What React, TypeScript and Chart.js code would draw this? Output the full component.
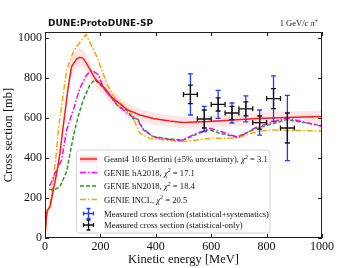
import { useEffect, useRef } from "react";
import { Chart, registerables } from "chart.js";

Chart.register(...registerables);

// ---- Data ----
const geant4X = [0, 4, 8, 18, 30, 42, 54, 64, 84, 96, 114, 126, 138, 150, 180, 217, 240, 295, 343, 391, 450, 500, 590, 680, 764, 870, 1000];
const geant4Y = [0, 90, 138, 155, 240, 323, 423, 540, 757, 857, 895, 903, 898, 873, 798, 748, 705, 643, 615, 598, 585, 578, 582, 590, 598, 602, 607];

const hA2018X = [15, 20, 36, 60, 78, 102, 126, 150, 169, 192, 211, 265, 300, 331, 355, 391, 450, 490, 550, 596, 640, 698, 764, 872, 1000];
const hA2018Y = [262, 268, 323, 390, 540, 640, 750, 815, 838, 818, 750, 660, 620, 595, 545, 505, 492, 487, 525, 548, 530, 502, 555, 600, 558];

const hN2018X = [15, 36, 54, 78, 102, 120, 138, 162, 180, 211, 265, 295, 318, 333, 355, 391, 450, 499, 550, 592, 632, 692, 764, 872, 1000];
const hN2018Y = [243, 243, 257, 332, 507, 610, 690, 765, 792, 750, 657, 640, 595, 600, 540, 507, 495, 490, 520, 542, 523, 505, 548, 592, 562];

const inclX = [0, 6, 16, 24, 32, 42, 48, 78, 105, 148, 187, 223, 247, 307, 343, 379, 415, 499, 596, 692, 764, 812, 1000];
const inclY = [0, 123, 160, 215, 307, 440, 540, 840, 940, 1018, 907, 773, 707, 632, 523, 498, 493, 482, 498, 500, 532, 540, 535];

const dataX = [525, 575, 625, 675, 725, 775, 825, 875];
const dataY = [718, 595, 668, 625, 646, 577, 697, 550];
const dataXErr = [25, 25, 25, 25, 25, 25, 25, 25];
const statErr = [46, 45, 33, 33, 35, 33, 50, 75];
const totalErr = [103, 63, 70, 50, 65, 63, 114, 163];

const xTickValues = [0, 200, 400, 600, 800, 1000];
const yTickValues = [0, 200, 400, 600, 800, 1000];

const legendLabels = [
  "Geant4 10.6 Bertini (±5% uncertainty), ",
  "GENIE hA2018, ",
  "GENIE hN2018, ",
  "GENIE INCL, ",
  "Measured cross section (statistical+systematics)",
  "Measured cross section (statistical-only)",
];
const chi2Values = ["3.1", "17.1", "18.4", "20.5"];

const RED = "#ff1a1a";
const MAGENTA = "#ff00ff";
const GREEN = "#2a9a2a";
const ORANGE = "#ffa500";
const BLUE = "#1f3dff";
const BLACK = "#111111";
const SERIF = "'Liberation Serif', 'DejaVu Serif', serif";

const DASH_DOT = [6, 2, 1.5, 2];
const DASHED = [4, 2];

function toPts(xs: number[], ys: number[]) {
  return xs.map((x, i) => ({ x, y: ys[i] }));
}

type Part = { t: string; italic?: boolean; sup?: boolean };

function richWidth(ctx: CanvasRenderingContext2D, parts: Part[], size: number) {
  let w = 0;
  for (const p of parts) {
    const s = p.sup ? size * 0.7 : size;
    ctx.font = `${p.italic ? "italic " : ""}${s}px ${SERIF}`;
    w += ctx.measureText(p.t).width;
  }
  return w;
}

function drawRich(ctx: CanvasRenderingContext2D, parts: Part[], x: number, y: number, size: number) {
  let cx = x;
  ctx.textBaseline = "alphabetic";
  ctx.textAlign = "left";
  for (const p of parts) {
    const s = p.sup ? size * 0.7 : size;
    ctx.font = `${p.italic ? "italic " : ""}${s}px ${SERIF}`;
    ctx.fillText(p.t, cx, p.sup ? y - size * 0.4 : y);
    cx += ctx.measureText(p.t).width;
  }
}

function drawErrCross(
  ctx: CanvasRenderingContext2D,
  cx: number,
  cy: number,
  xl: number,
  xr: number,
  yt: number,
  yb: number,
  color: string,
  cap: number
) {
  ctx.strokeStyle = color;
  ctx.beginPath();
  ctx.moveTo(xl, cy);
  ctx.lineTo(xr, cy);
  ctx.moveTo(xl, cy - cap);
  ctx.lineTo(xl, cy + cap);
  ctx.moveTo(xr, cy - cap);
  ctx.lineTo(xr, cy + cap);
  ctx.moveTo(cx, yt);
  ctx.lineTo(cx, yb);
  ctx.moveTo(cx - cap, yt);
  ctx.lineTo(cx + cap, yt);
  ctx.moveTo(cx - cap, yb);
  ctx.lineTo(cx + cap, yb);
  ctx.stroke();
}

const overlayPlugin = {
  id: "overlay",
  afterDatasetsDraw(chart: any) {
    const { ctx, scales } = chart;
    const xs = scales.x;
    const ys = scales.y;
    ctx.save();
    ctx.lineWidth = 1.3;
    dataX.forEach((xv, i) => {
      const px = xs.getPixelForValue(xv);
      const yt = ys.getPixelForValue(dataY[i] + totalErr[i]);
      const yb = ys.getPixelForValue(dataY[i] - totalErr[i]);
      ctx.strokeStyle = BLUE;
      ctx.beginPath();
      ctx.moveTo(px, yt);
      ctx.lineTo(px, yb);
      ctx.moveTo(px - 2.5, yt);
      ctx.lineTo(px + 2.5, yt);
      ctx.moveTo(px - 2.5, yb);
      ctx.lineTo(px + 2.5, yb);
      ctx.stroke();
    });
    dataX.forEach((xv, i) => {
      const px = xs.getPixelForValue(xv);
      const py = ys.getPixelForValue(dataY[i]);
      drawErrCross(
        ctx,
        px,
        py,
        xs.getPixelForValue(xv - dataXErr[i]),
        xs.getPixelForValue(xv + dataXErr[i]),
        ys.getPixelForValue(dataY[i] + statErr[i]),
        ys.getPixelForValue(dataY[i] - statErr[i]),
        BLACK,
        2.5
      );
    });
    ctx.restore();
  },
  afterDraw(chart: any) {
    const { ctx, chartArea, scales } = chart;
    const { left, right, top, bottom } = chartArea;
    const xs = scales.x;
    const ys = scales.y;
    ctx.save();
    ctx.strokeStyle = "#222";
    ctx.lineWidth = 1;
    ctx.setLineDash([]);
    ctx.strokeRect(Math.round(left) + 0.5, Math.round(top) + 0.5, Math.round(right - left) - 1, Math.round(bottom - top) - 1);
    ctx.beginPath();
    xTickValues.forEach((v) => {
      const px = Math.round(xs.getPixelForValue(v)) + 0.5;
      ctx.moveTo(px, bottom);
      ctx.lineTo(px, bottom - 4);
      ctx.moveTo(px, top);
      ctx.lineTo(px, top + 4);
    });
    yTickValues.forEach((v) => {
      const py = Math.round(ys.getPixelForValue(v)) + 0.5;
      ctx.moveTo(left, py);
      ctx.lineTo(left + 4, py);
      ctx.moveTo(right, py);
      ctx.lineTo(right - 4, py);
    });
    ctx.stroke();

    ctx.fillStyle = "#111";
    ctx.font = `12.5px ${SERIF}`;
    ctx.textAlign = "center";
    ctx.textBaseline = "middle";
    ctx.fillText("Kinetic energy [MeV]", (left + right) / 2, 260);
    ctx.save();
    ctx.translate(9, (top + bottom) / 2);
    ctx.rotate(-Math.PI / 2);
    ctx.fillText("Cross section [mb]", 0, 0);
    ctx.restore();

    ctx.font = `bold 9px 'DejaVu Sans', sans-serif`;
    ctx.textAlign = "left";
    ctx.textBaseline = "alphabetic";
    ctx.fillText("DUNE:ProtoDUNE-SP", 48, 26);
    const hdr: Part[] = [
      { t: "1 GeV/" },
      { t: "c", italic: true },
      { t: " " },
      { t: "π", italic: true },
      { t: "+", sup: true },
    ];
    const hw = richWidth(ctx, hdr, 8.5);
    drawRich(ctx, hdr, 318 - hw, 26, 8.5);

    const bx = 76.5, by = 150, bw = 193.5, bh = 83;
    ctx.beginPath();
    ctx.roundRect(bx, by, bw, bh, 3);
    ctx.fillStyle = "rgba(255,255,255,0.85)";
    ctx.fill();
    ctx.strokeStyle = "#d4d4d4";
    ctx.lineWidth = 1;
    ctx.stroke();

    const rows = [159, 172.5, 186, 199.5, 213.5, 225];
    const styles = [
      { c: RED, d: [] as number[] },
      { c: MAGENTA, d: DASH_DOT },
      { c: GREEN, d: DASHED },
      { c: ORANGE, d: DASH_DOT },
    ];
    const lx0 = 80, lx1 = 97, tx = 104, fs = 8.6;
    styles.forEach((s, i) => {
      const ry = rows[i];
      if (i === 0) {
        ctx.fillStyle = "rgba(255,0,0,0.15)";
        ctx.fillRect(lx0, ry - 3.5, lx1 - lx0, 7);
      }
      ctx.strokeStyle = s.c;
      ctx.lineWidth = 1.5;
      ctx.setLineDash(s.d);
      ctx.beginPath();
      ctx.moveTo(lx0, ry);
      ctx.lineTo(lx1, ry);
      ctx.stroke();
      ctx.setLineDash([]);
      ctx.fillStyle = "#111";
      drawRich(
        ctx,
        [
          { t: legendLabels[i] },
          { t: "χ", italic: true },
          { t: "2", sup: true },
          { t: " = " + chi2Values[i] },
        ],
        tx,
        ry + 3,
        fs
      );
    });
    ctx.lineWidth = 1.3;
    const mx = 88.5;
    drawErrCross(ctx, mx, rows[4], mx - 5, mx + 5, rows[4] - 5, rows[4] + 5, BLUE, 2);
    drawErrCross(ctx, mx, rows[5], mx - 5, mx + 5, rows[5] - 5, rows[5] + 5, BLACK, 2);
    ctx.fillStyle = "#111";
    drawRich(ctx, [{ t: legendLabels[4] }], tx, rows[4] + 3, fs);
    drawRich(ctx, [{ t: legendLabels[5] }], tx, rows[5] + 3, fs);

    ctx.restore();
  },
};

export default function App() {
  const ref = useRef<HTMLCanvasElement | null>(null);
  useEffect(() => {
    if (!ref.current) return;
    const upper = geant4Y.map((v) => v * 1.05);
    const lower = geant4Y.map((v) => v * 0.95);
    const lineCommon = { pointRadius: 0, tension: 0, fill: false, borderWidth: 1.5 };
    const chart = new Chart(ref.current, {
      type: "line",
      data: {
        datasets: [
          { ...lineCommon, label: "Geant4", data: toPts(geant4X, geant4Y), borderColor: RED },
          { ...lineCommon, label: "hA2018", data: toPts(hA2018X, hA2018Y), borderColor: MAGENTA, borderDash: DASH_DOT },
          { ...lineCommon, label: "hN2018", data: toPts(hN2018X, hN2018Y), borderColor: GREEN, borderDash: DASHED },
          { ...lineCommon, label: "INCL", data: toPts(inclX, inclY), borderColor: ORANGE, borderDash: DASH_DOT },
          { pointRadius: 0, tension: 0, borderWidth: 0, label: "bandUp", data: toPts(geant4X, upper), borderColor: "rgba(0,0,0,0)", fill: false },
          { pointRadius: 0, tension: 0, borderWidth: 0, label: "bandLo", data: toPts(geant4X, lower), borderColor: "rgba(0,0,0,0)", backgroundColor: "rgba(255,60,60,0.13)", fill: "-1" },
        ],
      } as any,
      options: {
        responsive: false,
        animation: false,
        devicePixelRatio: 1,
        layout: { padding: { top: 32, right: 35, left: 0, bottom: 0 } },
        plugins: { legend: { display: false }, tooltip: { enabled: false }, title: { display: false } },
        scales: {
          x: {
            type: "linear",
            min: 0,
            max: 1000,
            afterFit: (s: any) => { s.height = 30; },
            afterBuildTicks: (s: any) => { s.ticks = xTickValues.map((v) => ({ value: v })); },
            grid: { display: false, drawTicks: false },
            border: { display: false },
            ticks: { padding: 2, color: "#111", font: { family: SERIF, size: 12 }, maxRotation: 0, autoSkip: false, callback: (v: any) => String(v) },
          },
          y: {
            type: "linear",
            min: 0,
            max: 1030,
            afterFit: (s: any) => { s.width = 45; },
            afterBuildTicks: (s: any) => { s.ticks = yTickValues.map((v) => ({ value: v })); },
            grid: { display: false, drawTicks: false },
            border: { display: false },
            ticks: { padding: 3, color: "#111", font: { family: SERIF, size: 12 }, autoSkip: false, callback: (v: any) => String(v) },
          },
        },
      } as any,
      plugins: [overlayPlugin],
    });
    return () => chart.destroy();
  }, []);
  return (
    <div style={{ position: "fixed", left: 0, top: 0, width: 357, height: 268, background: "#fff" }}>
      <canvas ref={ref} width={357} height={268} style={{ display: "block" }} />
    </div>
  );
}
